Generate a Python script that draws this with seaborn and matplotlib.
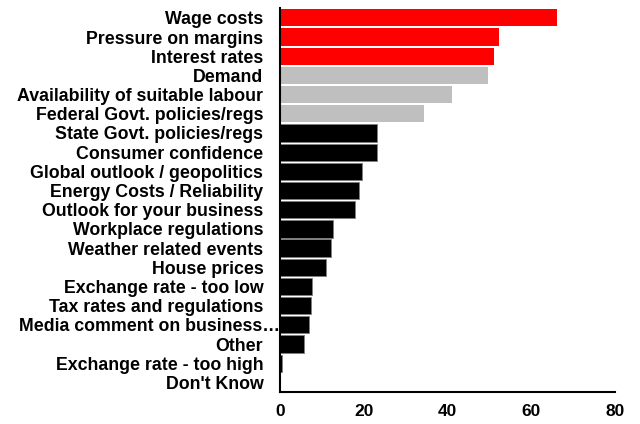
import matplotlib
matplotlib.use("Agg")
import matplotlib.pyplot as plt
import matplotlib.transforms as mtransforms
import seaborn as sns
import pandas as pd

categories = [
    "Wage costs", "Pressure on margins", "Interest rates", "Demand",
    "Availability of suitable labour", "Federal Govt. policies/regs",
    "State Govt. policies/regs", "Consumer confidence",
    "Global outlook / geopolitics", "Energy Costs / Reliability",
    "Outlook for your business", "Workplace regulations",
    "Weather related events", "House prices", "Exchange rate - too low",
    "Tax rates and regulations", "Media comment on business\u2026", "Other",
    "Exchange rate - too high", "Don't Know",
]
values = [66.1, 52.2, 51.0, 49.6, 41.0, 34.3, 23.2, 23.2, 19.6, 18.8,
          18.0, 12.6, 12.2, 10.9, 7.7, 7.3, 6.9, 5.7, 0.4, 0.0]
colors = ["#FF0000"] * 3 + ["#BFBFBF"] * 3 + ["#000000"] * 14
xticks = [0, 20, 40, 60, 80]

sns.set_style("white")
plt.rcParams["font.family"] = ["Liberation Sans", "DejaVu Sans"]
plt.rcParams["text.color"] = "#000000"
plt.rcParams["xtick.color"] = "#000000"
plt.rcParams["ytick.color"] = "#000000"

df = pd.DataFrame({"cat": categories, "val": values})

fig = plt.figure(figsize=(6.4, 4.24), dpi=100)
ax = fig.add_axes([0.4375, 0.0755, 0.5235, 0.905])
sns.barplot(data=df, x="val", y="cat", hue="cat", palette=colors,
            legend=False, width=0.9, ax=ax, saturation=1)

for patch, c in zip(ax.patches, colors):
    if c == "#000000":
        patch.set_edgecolor("#808080")
        patch.set_linewidth(0.6)
    else:
        patch.set_linewidth(0)

ax.set_xlim(0, 80)
ax.set_ylim(19.5, -0.5)
ax.set_xticks(xticks)
ax.set_xticklabels([str(t) for t in xticks], fontsize=12.5,
                   fontweight="bold", color="#000000")
ax.set_yticks(range(len(categories)))
ax.set_yticklabels(categories, fontsize=12.8, fontweight="bold",
                   color="#000000")
ax.tick_params(axis="both", length=0)
ax.tick_params(axis="y", pad=12)
ax.tick_params(axis="x", pad=9)
ax.set_xlabel("")
ax.set_ylabel("")

# the truncated label runs on past the others, up to the axis line
shift = mtransforms.ScaledTranslation(0.17, 0, fig.dpi_scale_trans)
for lab in ax.get_yticklabels():
    if lab.get_text().endswith("\u2026"):
        lab.set_transform(lab.get_transform() + shift)

for side in ("top", "right"):
    ax.spines[side].set_visible(False)
for side in ("left", "bottom"):
    ax.spines[side].set_color("#000000")
    ax.spines[side].set_linewidth(1.5)

fig.savefig("out.png", dpi=100)
